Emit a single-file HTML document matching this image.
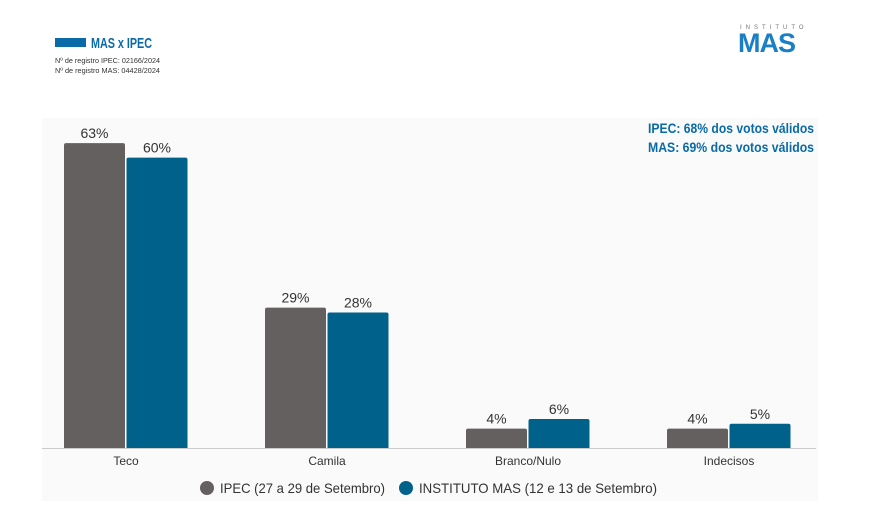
<!DOCTYPE html>
<html><head><meta charset="utf-8"><style>
body{margin:0;width:873px;height:531px;background:#fff;font-family:"Liberation Sans",sans-serif;overflow:hidden;position:relative}
.abs{position:absolute}
</style></head><body>
<div class="abs" style="left:55px;top:38px;width:31px;height:9px;background:#0a6aa8"></div>
<div class="abs" style="left:740px;top:25px;font-size:6px;letter-spacing:4px;color:#777">INSTITUTO</div>
<div class="abs" style="left:738px;top:28px;font-size:27px;font-weight:bold;color:#1a7fc4;letter-spacing:-1px">MAS</div>
<svg class="abs" style="left:0;top:0" width="873" height="531">
<text x="91" y="48" font-size="15" font-weight="bold" fill="#0a6aa8" textLength="61" lengthAdjust="spacingAndGlyphs">MAS x IPEC</text>
<text x="55" y="63" font-size="7" fill="#333" textLength="105" lengthAdjust="spacingAndGlyphs">Nº de registro IPEC: 02166/2024</text>
<text x="55" y="73" font-size="7" fill="#333" textLength="105" lengthAdjust="spacingAndGlyphs">Nº de registro MAS: 04428/2024</text>
<rect x="42" y="118" width="776" height="383" fill="#fafafa"/>
<g id="g"></g>
<text x="648" y="133" font-size="14" font-weight="bold" fill="#0a6aa8" textLength="166" lengthAdjust="spacingAndGlyphs">IPEC: 68% dos votos válidos</text>
<text x="648" y="152" font-size="14" font-weight="bold" fill="#0a6aa8" textLength="166" lengthAdjust="spacingAndGlyphs">MAS: 69% dos votos válidos</text>
<line x1="42" y1="448.5" x2="816" y2="448.5" stroke="#ccc"/>
<circle cx="207" cy="488" r="7" fill="#646060"/>
<text x="220" y="493" font-size="14" fill="#333" textLength="165" lengthAdjust="spacingAndGlyphs">IPEC (27 a 29 de Setembro)</text>
<circle cx="406" cy="488" r="7" fill="#00628a"/>
<text x="419" y="493" font-size="14" fill="#333" textLength="238" lengthAdjust="spacingAndGlyphs">INSTITUTO MAS (12 e 13 de Setembro)</text>
</svg>
<script>
const categories=["Teco","Camila","Branco/Nulo","Indecisos"];
const ipec=[63,29,4,4];
const mas=[60,28,6,5];
const g=document.getElementById('g');
const NS="http://www.w3.org/2000/svg";
const base=448, pxPer=4.84;
const y=v=>base-v*pxPer;
const cx=i=>126+i*201;
function bar(x,v,fill,name){
 const r=document.createElementNS(NS,'path');
 const t=y(v),w=61,rr=2;
 r.setAttribute('d',`M${x},${base}V${t+rr}Q${x},${t} ${x+rr},${t}H${x+w-rr}Q${x+w},${t} ${x+w},${t+rr}V${base}Z`);
 r.setAttribute('fill',fill);
 
 
 g.appendChild(r);
 const tx=document.createElementNS(NS,'text');
 tx.setAttribute('x',x+w/2);tx.setAttribute('y',t-5);tx.setAttribute('text-anchor','middle');
 tx.setAttribute('font-size','14');tx.setAttribute('fill','#333');
 tx.textContent=v+'%';
 
 
 g.appendChild(tx);
}
categories.forEach((c,i)=>{
 bar(cx(i)-62,ipec[i],'#646060','bar-ipec-'+i);
 bar(cx(i)+0.5,mas[i],'#00628a','bar-mas-'+i);
 const t=document.createElementNS(NS,'text');
 t.setAttribute('x',cx(i));t.setAttribute('y',465);t.setAttribute('text-anchor','middle');
 t.setAttribute('font-size','12');t.setAttribute('fill','#333');
 t.textContent=c;
 
 
 g.appendChild(t);
});
</script>
</body></html>
